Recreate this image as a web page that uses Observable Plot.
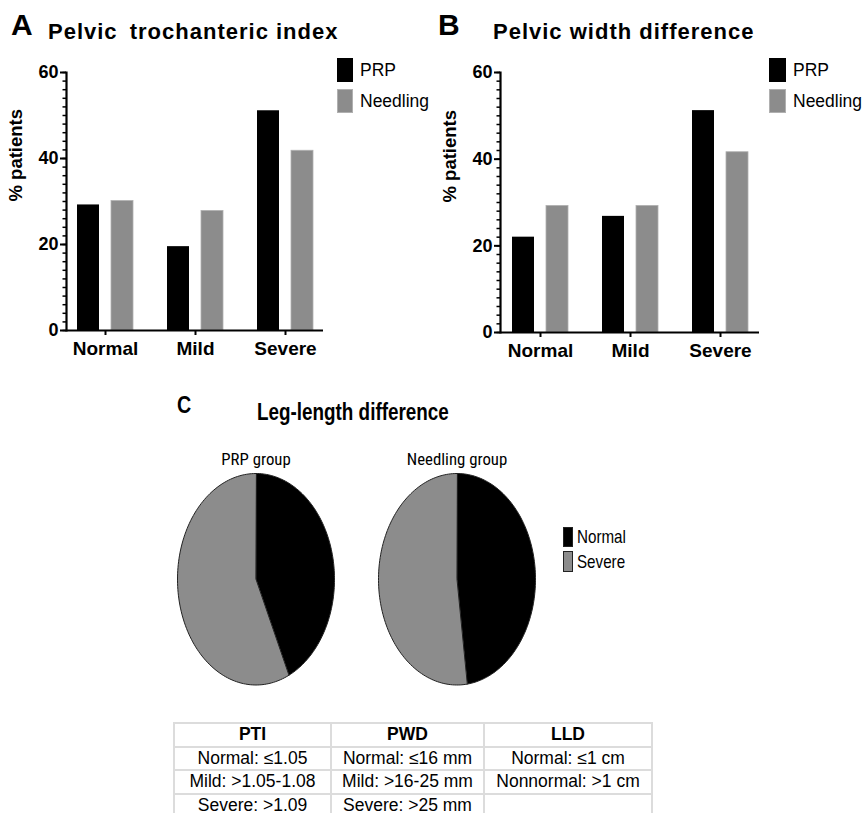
<!DOCTYPE html>
<html>
<head>
<meta charset="utf-8">
<script src="https://cdn.jsdelivr.net/npm/d3@7"></script>
<script src="https://cdn.jsdelivr.net/npm/@observablehq/plot@0.6"></script>
<style>
  html, body { margin: 0; padding: 0; background: #fff; }
  #page { position: relative; width: 865px; height: 813px; overflow: hidden; background: #fff;
          font-family: "Liberation Sans", Arial, sans-serif; color: #000; }
  .abs { position: absolute; white-space: nowrap; line-height: 1; }
  .narrow { transform: scaleX(0.82); transform-origin: 0 0; }
  .panel-letter { font-size: 30px; font-weight: bold; }
  .panel-title { font-size: 22px; font-weight: bold; letter-spacing: 1px; }
  .legend { position: absolute; font-size: 17.5px; }
  .legend .row { display: flex; align-items: center; height: 24px; }
  .legend .sw { display: inline-block; }
  table.crit { position: absolute; left: 173px; top: 722px; border-collapse: collapse;
               font-size: 17.5px; table-layout: fixed; }
  table.crit td, table.crit th { border: 2px solid #dcdcdc; text-align: center; padding: 0;
               height: 21.5px; line-height: 21.5px; white-space: nowrap; font-size: 17.5px; }
  table.crit th { font-weight: bold; }
</style>
</head>
<body>
<div id="page"></div>
<script>
// ---------- data ----------
const categories = ["Normal", "Mild", "Severe"];
const groups = ["PRP", "Needling"];
const ptiPRP = [29.2, 19.5, 51.1];
const ptiNeedling = [30.1, 27.8, 41.8];
const pwdPRP = [22.0, 26.8, 51.2];
const pwdNeedling = [29.2, 29.2, 41.6];
const yTicks = [0, 20, 40, 60];
const pieGroups = ["PRP group", "Needling group"];
const pieCategories = ["Normal", "Severe"];
const lldNormal = [43.1, 47.9];
const lldSevere = [56.9, 52.1];
const tableHeaders = ["PTI", "PWD", "LLD"];
const ptiCriteria = ["Normal: ≤1.05", "Mild: >1.05-1.08", "Severe: >1.09"];
const pwdCriteria = ["Normal: ≤16 mm", "Mild: >16-25 mm", "Severe: >25 mm"];
const lldCriteria = ["Normal: ≤1 cm", "Nonnormal: >1 cm", ""];

const BLACK = "#000000";
const GRAY = "#8c8c8c";
const page = document.getElementById("page");

function el(tag, cls, css, html) {
  const e = document.createElement(tag);
  if (cls) e.className = cls;
  Object.assign(e.style, css || {});
  if (html !== undefined) e.innerHTML = html;
  page.appendChild(e);
  return e;
}

// ---------- bar charts ----------
function barChart(prp, needling, cfg) {
  const rows = (vals, g) => categories.map((c, i) => ({cat: c, group: g, value: vals[i]}));
  const chart = Plot.plot({
    width: cfg.width, height: 370,
    marginLeft: cfg.marginLeft, marginRight: cfg.marginRight,
    marginTop: 72, marginBottom: cfg.marginBottom,
    style: {fontFamily: "Liberation Sans, Arial, sans-serif", color: "#000", background: "transparent", overflow: "visible"},
    x: {type: "band", domain: categories, range: cfg.xRange, padding: 0, axis: null},
    y: {domain: [0, 60], axis: null},
    marks: [
      Plot.barY(rows(prp, "PRP"), {x: "cat", y: "value", fill: BLACK, insetLeft: 17, insetRight: 51}),
      Plot.barY(rows(needling, "Needling"), {x: "cat", y: "value", fill: GRAY, stroke: "#b0b0b0", strokeWidth: 0.8, insetLeft: 51, insetRight: 17}),
      Plot.axisY({ticks: d3.range(0, 61, 2), tickSize: 3.5, tickFormat: () => "", strokeWidth: 1.5, label: null}),
      Plot.axisY({ticks: yTicks, tickSize: 6, tickPadding: 2, fontSize: 18, fontWeight: "bold", strokeWidth: 2, label: null}),
      Plot.axisX({tickSize: 5, tickPadding: 6, fontSize: 19, fontWeight: "bold", strokeWidth: 2, label: null}),
      Plot.frame({anchor: "left", strokeWidth: 2.2}),
      Plot.ruleY([0], {strokeWidth: 2.2}),
      Plot.text(["% patients"], {frameAnchor: "left", rotate: -90, dx: cfg.labelDx, fontSize: 18.5, fontWeight: "bold"})
    ]
  });
  chart.style.position = "absolute";
  chart.style.left = cfg.left + "px";
  chart.style.top = "0px";
  page.appendChild(chart);
}

barChart(ptiPRP, ptiNeedling, {left: 0, width: 430, marginLeft: 66, marginRight: 107, marginBottom: 40, xRange: [60, 330], labelDx: -50});
barChart(pwdPRP, pwdNeedling, {left: 430, width: 435, marginLeft: 70, marginRight: 106, marginBottom: 38, xRange: [65, 335], labelDx: -50});

// titles
el("div", "abs panel-letter", {left: "11px", top: "9.6px"}, "A");
el("div", "abs panel-title", {left: "48px", top: "21.4px"}, "Pelvic<span style='margin-left:5px'></span> trochanteric index");
el("div", "abs panel-letter", {left: "438px", top: "9.6px"}, "B");
el("div", "abs panel-title", {left: "493px", top: "21.4px"}, "Pelvic width difference");

// bar legends
function barLegend(left, sw) {
  const lg = el("div", "legend", {left: left + "px", top: "58px"});
  const colors = [BLACK, GRAY];
  groups.forEach((g, i) => {
    const r = document.createElement("div");
    r.className = "row";
    r.style.marginBottom = i === 0 ? "7px" : "0";
    r.innerHTML = `<span class="sw" style="width:${sw}px;height:24px;background:${colors[i]};${i ? "box-shadow: inset 0 0 0 1px #b0b0b0;" : ""}"></span><span style="margin-left:7px">${g}</span>`;
    lg.appendChild(r);
  });
}
barLegend(337, 16);
barLegend(769, 17);

// ---------- pies ----------
el("div", "abs narrow", {left: "177px", top: "393px", fontSize: "24px", fontWeight: "bold"}, "C");
el("div", "abs narrow", {left: "257px", top: "400.5px", fontSize: "23px", fontWeight: "bold"}, "Leg-length difference");

const pieData = pieGroups.flatMap((g, i) => {
  const arcs = d3.pie().sort(null)([lldNormal[i], lldSevere[i]]);
  return arcs.flatMap((a, j) => {
    const cat = pieCategories[j];
    const pts = [{group: g, cat, key: g + cat, x: 0, y: 0}];
    const n = 120;
    for (let k = 0; k <= n; k++) {
      const t = a.startAngle + (a.endAngle - a.startAngle) * k / n;
      pts.push({group: g, cat, key: g + cat, x: Math.sin(t), y: Math.cos(t)});
    }
    return pts;
  });
});

const pies = Plot.plot({
  width: 600, height: 260,
  marginLeft: 176, marginRight: 64, marginTop: 43, marginBottom: 5.5,
  style: {fontFamily: "Liberation Sans, Arial, sans-serif", color: "#000", background: "transparent", overflow: "visible"},
  fx: {domain: pieGroups, paddingInner: 0.2178, paddingOuter: 0, label: null},
  x: {domain: [-1, 1], axis: null},
  y: {domain: [-1, 1], axis: null},
  marks: [
    Plot.line(pieData.filter(d => d.cat === "Normal"), {fx: "group", x: "x", y: "y", z: "key", fill: BLACK, stroke: "#222", strokeWidth: 1, curve: "linear-closed"}),
    Plot.line(pieData.filter(d => d.cat === "Severe"), {fx: "group", x: "x", y: "y", z: "key", fill: GRAY, stroke: "#222", strokeWidth: 1, curve: "linear-closed"}),
    Plot.axisFx({anchor: "top", tickSize: 0, tickPadding: 9, fontSize: 16.8, fontFamily: "Roboto Condensed, Liberation Sans, sans-serif", label: null})
  ]
});
pies.style.position = "absolute";
pies.style.left = "0px";
pies.style.top = "430px";
page.appendChild(pies);

// pie legend
const pl = el("div", "legend", {left: "563px", top: "526px", fontSize: "18.5px"});
pieCategories.forEach((c, i) => {
  const r = document.createElement("div");
  r.style.display = "flex"; r.style.alignItems = "center"; r.style.height = "21px";
  r.style.marginBottom = i === 0 ? "4px" : "0";
  r.innerHTML = `<span style="display:inline-block;box-sizing:border-box;width:10px;height:${i ? 21 : 20}px;background:${i ? GRAY : BLACK};border:1px solid #222"></span><span class="narrow" style="display:inline-block;margin-left:4px;transform-origin:0 50%">${c}</span>`;
  pl.appendChild(r);
});

// ---------- criteria table ----------
const tbl = document.createElement("table");
tbl.className = "crit";
const colW = [157, 153, 168];
let html = "<colgroup>" + colW.map(w => `<col style="width:${w}px">`).join("") + "</colgroup>";
html += "<tr>" + tableHeaders.map(h => `<th>${h}</th>`).join("") + "</tr>";
for (let r = 0; r < 3; r++) {
  html += "<tr>" + [ptiCriteria[r], pwdCriteria[r], lldCriteria[r]].map(v => `<td>${v}</td>`).join("") + "</tr>";
}
tbl.innerHTML = html;
page.appendChild(tbl);
</script>
</body>
</html>
